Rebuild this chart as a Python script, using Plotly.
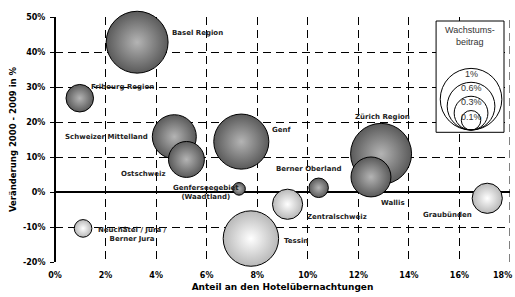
import numpy as np
import plotly.graph_objects as go

# ---- data ----
regions = ["Basel Region", "Fribourg Region", "Schweizer Mittelland", "Ostschweiz", "Genf",
           "Genferseegebiet (Waadtland)", "Neuchâtel / Jura / Berner Jura", "Tessin",
           "Zentralschweiz", "Berner Oberland", "Zürich Region", "Wallis", "Graubünden"]
share_pct = [3.25, 0.98, 4.72, 5.2, 7.37, 7.28, 1.11, 7.75, 9.2, 10.43, 12.9, 12.5, 17.1]
change_pct = [42.8, 26.8, 15.8, 9.3, 14.4, 0.9, -10.4, -13.3, -3.5, 1.2, 10.9, 4.3, -1.8]
contribution_pct = [1.01, 0.20, 0.51, 0.34, 0.80, 0.042, 0.082, 0.81, 0.24, 0.10, 0.98, 0.42, 0.24]
legend_values = [1, 0.6, 0.3, 0.1]
legend_labels = ["1%", "0.6%", "0.3%", "0.1%"]
x_ticks = [0, 2, 4, 6, 8, 10, 12, 14, 16, 18]
y_ticks = [-20, -10, 0, 10, 20, 30, 40, 50]

# ---- styling ----
R1 = 30.8  # pixel radius of a 1% bubble
sizeref = 1.0 / (2 * R1 ** 2)
FONT = "DejaVu Sans"

W, H = 515, 297
ML, MR, MT, MB = 54.5, 5, 17, 35
PW, PH = W - ML - MR, H - MT - MB

fig = go.Figure()
for i in range(len(regions)):
    positive = change_pct[i] >= 0
    fig.add_trace(go.Scatter(
        x=[share_pct[i]], y=[change_pct[i]], mode="markers",
        marker=dict(size=[contribution_pct[i]], sizemode="area", sizeref=sizeref,
                    color="#5a5a5a" if positive else "#b8b8b8",
                    gradient=dict(type="radial", color="#b4b4b4" if positive else "#ffffff"),
                    line=dict(color="black", width=1), opacity=1),
        hovertext=regions[i], showlegend=False, cliponaxis=False))

labels = [
    ("Basel Region", 4.56, 45.4, "left"),
    ("Fribourg Region", 1.36, 30.1, "left"),
    ("Schweizer Mittelland", 3.74, 15.8, "right"),
    ("Ostschweiz", 3.5, 5.1, "center"),
    ("Genf", 8.52, 17.7, "left"),
    ("Genferseegebiet<br>(Waadtland)", 5.99, -0.1, "center"),
    ("Neuchâtel / Jura /<br>Berner Jura", 3.08, -12.1, "center"),
    ("Zürich Region", 12.94, 21.4, "center"),
    ("Berner Oberland", 10.02, 6.6, "center"),
    ("Wallis", 13.38, -3.06, "center"),
    ("Zentralschweiz", 11.17, -7.06, "center"),
    ("Tessin", 9.55, -14.0, "center"),
    ("Graubünden", 15.51, -6.66, "center"),
]
for text, x, y, anchor in labels:
    fig.add_annotation(x=x, y=y, text="<b>%s</b>" % text, showarrow=False, xanchor=anchor,
                       yanchor="middle", font=dict(family=FONT, size=7, color="#222"),
                       align="center")

# last x tick label, kept inside the page
fig.add_annotation(x=x_ticks[-1], y=0, yref="paper", yshift=-13, xshift=4,
                   text="<b>%d%%</b>" % x_ticks[-1],
                   showarrow=False, xanchor="right", yanchor="middle",
                   font=dict(family=FONT, size=8, color="black"))

# ---- size legend ----
def px_x(p):
    return (p - ML) / PW

def px_y(p):
    return (H - MB - p) / PH

fig.add_shape(type="rect", xref="paper", yref="paper", x0=px_x(436), x1=px_x(504),
              y0=px_y(132.3), y1=px_y(21), line=dict(color="black", width=1), fillcolor="white",
              layer="above")
cx, by = px_x(471), px_y(130)
for v, lab in zip(legend_values, legend_labels):
    r = R1 * np.sqrt(v)
    fig.add_shape(type="circle", xref="paper", yref="paper", xsizemode="pixel", ysizemode="pixel",
                  xanchor=cx, yanchor=by, x0=-r, x1=r, y0=0, y1=2 * r,
                  line=dict(color="black", width=1), fillcolor="rgba(0,0,0,0)", layer="above")
    fig.add_annotation(xref="paper", yref="paper", x=cx, y=by, yshift=2 * r - 6, text=lab,
                       showarrow=False, xanchor="center", yanchor="middle",
                       font=dict(family="Liberation Sans", size=9, color="#333"))
fig.add_annotation(xref="paper", yref="paper", x=px_x(470), y=px_y(36), text="Wachstums-<br>beitrag",
                   showarrow=False, xanchor="center", yanchor="middle",
                   font=dict(family="Liberation Sans", size=9, color="#333"))

fig.update_layout(
    width=W, height=H, margin=dict(l=ML, r=MR, t=MT, b=MB, autoexpand=False),
    plot_bgcolor="white", paper_bgcolor="white",
    font=dict(family=FONT, size=8, color="black"),
    xaxis=dict(range=[0, 18], tickvals=x_ticks[:-1], ticktext=["%d%%" % t for t in x_ticks[:-1]],
               showgrid=True, gridcolor="black", griddash="8px,5px", gridwidth=1,
               zeroline=True, zerolinecolor="black", zerolinewidth=1.5, showline=False,
               ticks="", ticklabelstandoff=7,
               tickfont=dict(family=FONT, size=8, weight="bold"),
               title=dict(text="<b>Anteil an den Hotelübernachtungen</b>",
                          font=dict(family=FONT, size=9), standoff=4)),
    yaxis=dict(range=[-20, 50], tickvals=y_ticks, ticktext=["%d%%" % t for t in y_ticks],
               showgrid=True, gridcolor="black", griddash="8px,5px", gridwidth=1,
               zeroline=True, zerolinecolor="black", zerolinewidth=1.5, showline=False,
               ticks="outside", ticklen=4, tickcolor="black", ticklabelstandoff=3,
               tickfont=dict(family=FONT, size=8, weight="bold"),
               title=dict(text="<b>Veränderung 2000 - 2009 in %</b>",
                          font=dict(family=FONT, size=8.5), standoff=4)),
)
# vertical gridline at 18% (the last x tick is labelled by the annotation above)
fig.add_shape(type="line", xref="x", yref="paper", x0=x_ticks[-1], x1=x_ticks[-1], y0=0, y1=1,
              line=dict(color="black", width=1, dash="8px,5px"), layer="below")

fig.write_html("out.html", config={"displayModeBar": False},
               post_script="document.body.style.margin='0';")
